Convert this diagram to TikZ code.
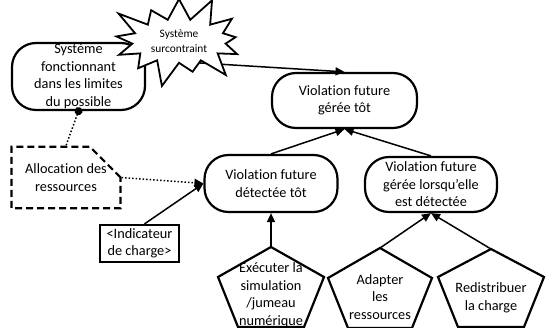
\documentclass[tikz,border=0pt]{standalone}
\usepackage{fontspec}
\setmainfont{Carlito}[Ligatures=CommonOff]
\usetikzlibrary{arrows.meta,shapes.misc,shapes.symbols}

\begin{document}
\begin{tikzpicture}[x=1pt,y=-1pt,
  font=\fontsize{14.3}{17.5}\selectfont,
  terminator/.style={draw, rectangle, rounded corners=24pt, line width=2.2pt,
    align=center, inner sep=0pt},
  action/.style={draw, line width=2.2pt, line join=miter},
  link/.style={line width=1.5pt, -{Triangle[length=9pt,width=8pt]}}]

\useasboundingbox (0,0) rectangle (546,328);

\coordinate (run-simulation-top) at (271,247);
\coordinate (adapt-resources-top) at (380,248);
\coordinate (redistribute-load-top) at (491,249);

\node[terminator, minimum width=133pt, minimum height=67pt] (system) at (78.5,76.5)
  {Système\\fonctionnant\\dans les limites\\du possible};
\node[terminator, minimum width=145pt, minimum height=55pt] (early-managed) at (344.5,100.5)
  {Violation future\\gérée tôt};
\node[terminator, minimum width=133pt, minimum height=57pt] (early-detected) at (271,183.5)
  {Violation future\\détectée tôt};
\node[terminator, minimum width=132pt, minimum height=55pt] (managed-on-detection) at (431,184.5)
  {Violation future\\gérée lorsqu’elle\\est détectée};

\node[draw, dash pattern=on 7pt off 4pt, line width=2.2pt, chamfered rectangle,
  chamfered rectangle corners=north east, chamfered rectangle xsep=17pt,
  chamfered rectangle ysep=17pt, minimum width=108pt, minimum height=45pt,
  align=center, inner sep=0pt] (allocation) at (66,177.5)
  {Allocation des\\ressources};
\node[draw, line width=2.2pt, minimum width=79pt, minimum height=37pt,
  align=center, inner sep=0pt] (load-indicator) at (139.5,243.5)
  {<Indicateur\\de charge>};

\draw[action] (run-simulation-top) -- ++(53,30) -- ++(-20,50) -- ++(-66,0) -- ++(-20,-50) -- cycle;
\draw[action] (adapt-resources-top) -- ++(52,30) -- ++(-20,50) -- ++(-64,0) -- ++(-20,-50) -- cycle;
\draw[action] (redistribute-load-top) -- ++(53,28) -- ++(-20,50) -- ++(-66,0) -- ++(-20,-50) -- cycle;

\node[align=center] (run-simulation) at (271,295) {Exécuter la\\simulation\\/jumeau\\numérique};
\node[align=center] (adapt-resources) at (380,297) {Adapter\\les\\ressources};
\node[align=center] (redistribute-load) at (491,298) {Redistribuer\\la charge};

% liens
\draw[link] (system.14) -- (early-managed.north);
\draw[link] (early-detected.north) -- (early-managed.south);
\draw[link] (managed-on-detection.north) -- (early-managed.south);
\draw[link] (run-simulation-top) -- (early-detected.south);
\draw[link] (adapt-resources-top) -- (managed-on-detection.south);
\draw[link] (redistribute-load-top) -- (managed-on-detection.south);
\draw[link] ([xshift=5pt]load-indicator.north) -- (early-detected.west);
\draw[link, dotted] (allocation.east) -- (early-detected.west);
\draw[line width=1.5pt, dotted, {Circle[length=8pt]}-, shorten <=-4pt] (system.south) -- (allocation.north);

\node[draw, starburst, fill=white, line width=1.8pt, minimum width=150pt,
  minimum height=78pt, starburst points=13, starburst point height=28pt,
  font=\fontsize{11.4}{15}\selectfont, align=center, inner sep=4pt] (overconstrained) at (179,41)
  {Système\\surcontraint};

\end{tikzpicture}
\end{document}
